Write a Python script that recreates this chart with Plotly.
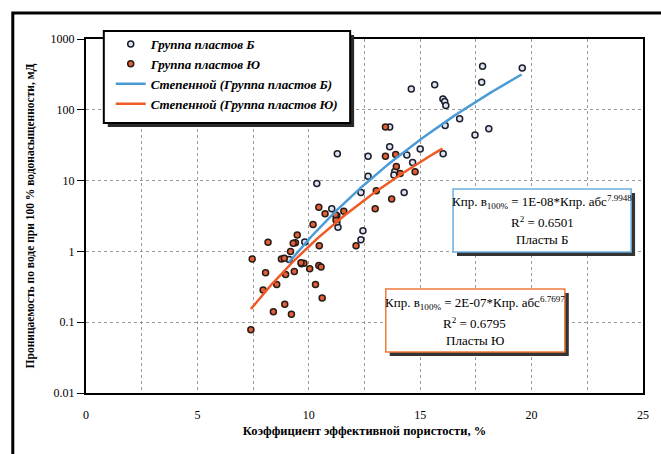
import numpy as np
import plotly.graph_objects as go

# ---- data ----
b_x = [19.58, 17.8, 17.76, 14.6, 15.65, 16.02, 16.1, 16.15, 16.77, 16.12, 18.08, 17.46,
       13.63, 13.63, 15.0, 14.4, 16.03, 11.28, 12.66, 14.66, 12.66, 13.86, 13.82, 14.28,
       12.34, 10.36, 11.03, 11.31, 11.26, 12.43, 12.34, 9.82, 9.12, 9.67, 11.26]
b_y = [390, 411, 245, 196, 226, 142, 131, 115, 75, 60, 54, 44,
       57, 30, 28, 23, 24, 24, 22, 18, 11.5, 13.4, 12, 6.8,
       6.8, 9.1, 4.0, 2.2, 2.6, 1.95, 1.46, 1.36, 0.77, 0.67, 3.2]

u_x = [13.44, 13.44, 13.9, 13.93, 14.1, 14.77, 13.03, 13.72, 12.98, 10.45, 11.57, 10.73,
       11.22, 11.2, 10.19, 9.48, 9.4, 9.3, 8.17, 9.18, 10.47, 12.12, 7.46, 8.77, 8.9,
       9.78, 9.65, 10.04, 10.45, 10.55, 8.06, 9.35, 8.96, 8.56, 10.3, 7.95, 10.6, 8.92,
       8.41, 9.22, 7.4]
u_y = [57, 22, 23.4, 15.8, 12.6, 13.3, 7.2, 5.5, 4.0, 4.2, 3.7, 3.4,
       2.8, 3.3, 2.4, 1.7, 1.32, 1.3, 1.35, 1.0, 1.2, 1.2, 0.78, 0.78, 0.8,
       0.68, 0.69, 0.57, 0.63, 0.6, 0.5, 0.52, 0.47, 0.34, 0.34, 0.285, 0.22, 0.18,
       0.14, 0.13, 0.078]

# power trend lines  y = a * x^b
b_fit_a, b_fit_b, b_fit_range = 1.5e-08, 7.9948, (9.1, 19.55)
u_fit_a, u_fit_b, u_fit_range = 2e-07, 6.7697, (7.4, 16.0)

y_tickvals = [0.01, 0.1, 1, 10, 100, 1000]
y_ticktext = ["0.01", "0.1", "1", "10", "100", "1000"]

names = ["Группа пластов Б", "Группа пластов Ю",
         "Степенной (Группа пластов Б)", "Степенной (Группа пластов Ю)"]
y_title = "Проницаемость по воде при 100 % водонасыщенности, мД"
x_title = "Коэффициент эффективной пористости, %"
eq_b = ["Кпр. в<sub>100%</sub> = 1E-08*Кпр. абс<sup>7.9948</sup>", "R<sup>2</sup> = 0.6501", "Пласты Б"]
eq_u = ["Кпр. в<sub>100%</sub> = 2E-07*Кпр. абс<sup>6.7697</sup>", "R<sup>2</sup> = 0.6795", "Пласты Ю"]

# ---- layout geometry (pixels) ----
W, H = 661, 454
L, R, T, B = 86, 649, 39, 393
def px(x): return (x - L) / (R - L)
def py(y): return (B - y) / (B - T)

FONT = "Liberation Serif"
BLUE_LINE = "#4a9bd6"
ORANGE_LINE = "#f05a24"

fig = go.Figure()
fig.add_trace(go.Scatter(x=b_x, y=b_y, mode="markers", name=names[0],
                         marker=dict(size=6, color="#dde5ef", line=dict(color="#1c1c2c", width=1.5))))
fig.add_trace(go.Scatter(x=u_x, y=u_y, mode="markers", name=names[1],
                         marker=dict(size=6, color="#e0603a", line=dict(color="#2a1a14", width=1.5))))

xb = np.linspace(*b_fit_range, 100)
xu = np.linspace(*u_fit_range, 100)
fig.add_trace(go.Scatter(x=xb, y=b_fit_a * xb ** b_fit_b, mode="lines", name=names[2],
                         line=dict(color=BLUE_LINE, width=2.5)))
fig.add_trace(go.Scatter(x=xu, y=u_fit_a * xu ** u_fit_b, mode="lines", name=names[3],
                         line=dict(color=ORANGE_LINE, width=2.5)))

shapes = []
# outer frame
shapes.append(dict(type="rect", xref="paper", yref="paper", x0=px(12), x1=px(680),
                   y0=py(480), y1=py(13), line=dict(color="black", width=3), layer="above"))
# legend frame + shadow
shapes.append(dict(type="rect", xref="paper", yref="paper", x0=px(108), x1=px(357),
                   y0=py(127), y1=py(35), fillcolor="#2a2a2a", line=dict(width=0), layer="above"))
shapes.append(dict(type="rect", xref="paper", yref="paper", x0=px(104), x1=px(353),
                   y0=py(123), y1=py(31), fillcolor="white", line=dict(color="black", width=2), layer="above"))
# equation boxes
def eqbox(x0, y0, x1, y1, col):
    shapes.append(dict(type="rect", xref="paper", yref="paper", x0=px(x0 + 4), x1=px(x1 + 4),
                       y0=py(y1 + 4), y1=py(y0 + 4), fillcolor="#333333", line=dict(width=0), layer="above"))
    shapes.append(dict(type="rect", xref="paper", yref="paper", x0=px(x0), x1=px(x1),
                       y0=py(y1), y1=py(y0), fillcolor="white", line=dict(color=col, width=1.5), layer="above"))
eqbox(457, 189, 637, 252, "#6aaee0")
eqbox(389, 289, 570, 352, "#f07a3a")

annotations = []
def eqtext(cx, ys, lines):
    for yy, t in zip(ys, lines):
        annotations.append(dict(xref="paper", yref="paper", x=px(cx), y=py(yy), text=t,
                                showarrow=False, xanchor="center", yanchor="middle",
                                font=dict(family=FONT, size=13, color="black")))
eqtext(547, [202, 222, 239], eq_b)
eqtext(479, [303, 323, 340], eq_u)

fig.update_layout(
    width=W, height=H,
    margin=dict(l=L, r=W - R, t=T, b=H - B),
    paper_bgcolor="white", plot_bgcolor="white",
    font=dict(family=FONT, size=12, color="black"),
    shapes=shapes, annotations=annotations,
    showlegend=True,
    legend=dict(x=px(111), y=py(29), xanchor="left", yanchor="top",
                bgcolor="rgba(0,0,0,0)", borderwidth=0,
                font=dict(family=FONT, size=13, color="black", style="italic", weight="bold")),
    xaxis=dict(range=[0, 25], dtick=5, tick0=0, showgrid=True, gridcolor="#9a9a9a", griddash="dot",
               gridwidth=1, minor=dict(dtick=2.5, showgrid=True, gridcolor="#9a9a9a", griddash="dot"),
               showline=True, linecolor="black", linewidth=2, mirror=True, ticks="",
               ticklabelstandoff=10, zeroline=False,
               tickfont=dict(family=FONT, size=12),
               title=dict(text=x_title, font=dict(family=FONT, size=12.5, weight="bold"), standoff=5)),
    yaxis=dict(type="log", range=[-2, 3], tickvals=y_tickvals, ticktext=y_ticktext,
               showgrid=True, gridcolor="#9a9a9a", griddash="dot", gridwidth=1,
               showline=True, linecolor="black", linewidth=2, mirror=True,
               ticks="outside", ticklen=7, tickcolor="black", zeroline=False,
               tickfont=dict(family=FONT, size=12),
               title=dict(text=y_title, font=dict(family=FONT, size=11.5, weight="bold"), standoff=14)),
)

fig.write_html("out.html", config={"displayModeBar": False},
               post_script="document.body.style.margin='0';")
